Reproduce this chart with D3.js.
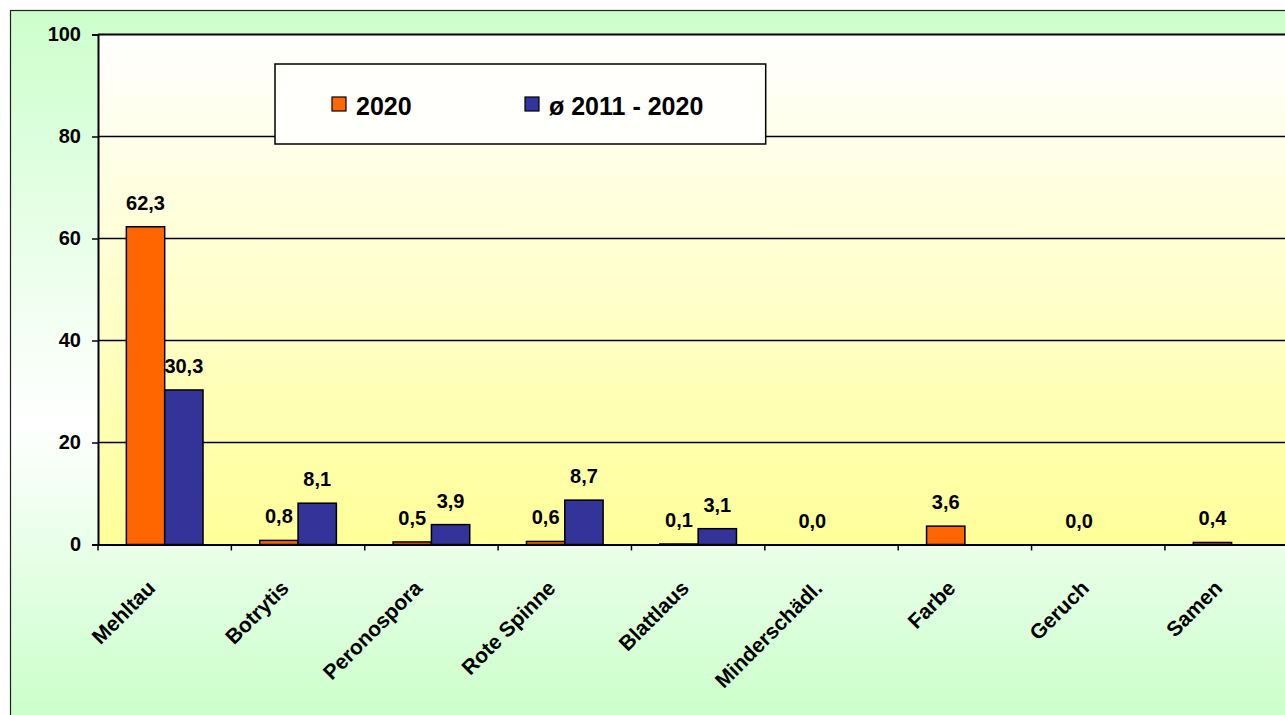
<!DOCTYPE html>
<html>
<head>
<meta charset="utf-8">
<script src="https://cdn.jsdelivr.net/npm/d3@7"></script>
<style>
  body { margin: 0; background: #fff; }
  svg { display: block; font-family: "Liberation Sans", Arial, sans-serif; font-weight: bold; }
</style>
</head>
<body>
<svg id="chart" width="1285" height="715"></svg>
<script>
// data
const categories = ["Mehltau", "Botrytis", "Peronospora", "Rote Spinne", "Blattlaus",
    "Minderschädl.", "Farbe", "Geruch", "Samen"];
const values2020 = [62.3, 0.8, 0.5, 0.6, 0.1, 0.0, 3.6, 0.0, 0.4];
const valuesAvg = [30.3, 8.1, 3.9, 8.7, 3.1, null, null, null, null];
const seriesNames = ["2020", "ø 2011 - 2020"];
const seriesColors = ["#ff6600", "#333399"];
const yTicks = [0, 20, 40, 60, 80, 100];

const svg = d3.select("#chart");
const plot = { left: 98, top: 34.5, right: 1298.3, bottom: 544.5 };
const fmt = v => d3.format(".1f")(v).replace(".", ",");

const defs = svg.append("defs");
const outerGrad = defs.append("linearGradient").attr("id", "outerGrad")
    .attr("x1", 0).attr("y1", 0).attr("x2", 0).attr("y2", 1);
outerGrad.append("stop").attr("offset", "0").attr("stop-color", "#ccffcc");
outerGrad.append("stop").attr("offset", "0.54").attr("stop-color", "#ffffff");
outerGrad.append("stop").attr("offset", "0.92").attr("stop-color", "#ccffcc");

const plotGrad = defs.append("linearGradient").attr("id", "plotGrad")
    .attr("x1", 0).attr("y1", 0).attr("x2", 0).attr("y2", 1);
plotGrad.append("stop").attr("offset", "0").attr("stop-color", "#ffffff");
plotGrad.append("stop").attr("offset", "1").attr("stop-color", "#ffff99");

// outer chart area
svg.append("rect")
    .attr("x", 10.5).attr("y", 10.5)
    .attr("width", 1300).attr("height", 760)
    .attr("fill", "url(#outerGrad)")
    .attr("stroke", "#222").attr("stroke-width", 1.2);

// plot area
svg.append("rect")
    .attr("x", plot.left).attr("y", plot.top)
    .attr("width", plot.right - plot.left).attr("height", plot.bottom - plot.top)
    .attr("fill", "url(#plotGrad)");

const x = d3.scaleBand()
    .domain(categories)
    .range([plot.left, plot.right]);

const xSub = d3.scaleBand()
    .domain([0, 1])
    .range([0, x.bandwidth()])
    .paddingInner(0)
    .paddingOuter(0.74);

const y = d3.scaleLinear()
    .domain([0, 100])
    .range([plot.bottom, plot.top]);

// gridlines
svg.append("g")
    .selectAll("line")
    .data(yTicks.filter(t => t > 0))
    .join("line")
    .attr("x1", plot.left).attr("x2", plot.right)
    .attr("y1", d => y(d)).attr("y2", d => y(d))
    .attr("stroke", "#000")
    .attr("stroke-width", d => d === 100 ? 2 : 1.3);

// bars
const seriesData = [values2020, valuesAvg];
const barData = [];
categories.forEach((c, i) => {
    seriesData.forEach((vals, s) => {
        if (vals[i] !== null) barData.push({ cat: c, s: s, value: vals[i] });
    });
});

svg.append("g")
    .selectAll("rect")
    .data(barData.filter(d => d.value > 0))
    .join("rect")
    .attr("x", d => x(d.cat) + xSub(d.s))
    .attr("y", d => y(d.value))
    .attr("width", xSub.bandwidth())
    .attr("height", d => y(0) - y(d.value))
    .attr("fill", d => seriesColors[d.s])
    .attr("stroke", "#000")
    .attr("stroke-width", 1.5);

// data labels
svg.append("g")
    .selectAll("text")
    .data(barData)
    .join("text")
    .attr("x", d => x(d.cat) + xSub(d.s) + xSub.bandwidth() / 2)
    .attr("y", d => y(d.value) - 17)
    .attr("text-anchor", "middle")
    .attr("font-size", 20)
    .attr("fill", "#000")
    .text(d => fmt(d.value));

// y axis
const yAxis = svg.append("g")
    .attr("transform", `translate(${plot.left},0)`)
    .call(d3.axisLeft(y).tickValues(yTicks).tickSize(6).tickPadding(11).tickFormat(d3.format("d")));
yAxis.select(".domain").attr("stroke", "#000").attr("stroke-width", 2);
yAxis.selectAll(".tick line").attr("stroke", "#000").attr("stroke-width", 1.5);
yAxis.selectAll(".tick text")
    .attr("font-size", 20)
    .attr("font-family", "Liberation Sans, Arial, sans-serif")
    .attr("font-weight", "bold")
    .attr("fill", "#000");

// x axis
const xAxis = svg.append("g")
    .attr("transform", `translate(0,${plot.bottom})`)
    .call(d3.axisBottom(x).tickSize(0).tickSizeOuter(0));
xAxis.select(".domain").attr("stroke", "#000").attr("stroke-width", 2);
xAxis.selectAll(".tick text")
    .attr("y", 0).attr("dy", 0)
    .attr("transform", "translate(-8,45) rotate(-45)")
    .attr("text-anchor", "end")
    .attr("font-size", 21)
    .attr("font-family", "Liberation Sans, Arial, sans-serif")
    .attr("font-weight", "bold")
    .attr("fill", "#000");

// x ticks sit on the category boundaries
const boundaries = categories.map(c => x(c)).concat([x.range()[1]]);
svg.append("g")
    .selectAll("line")
    .data(boundaries)
    .join("line")
    .attr("x1", d => d).attr("x2", d => d)
    .attr("y1", plot.bottom).attr("y2", plot.bottom + 6)
    .attr("stroke", "#000").attr("stroke-width", 1.5);

// legend
const legend = svg.append("g").attr("transform", "translate(275,64)");
legend.append("rect")
    .attr("width", 490.7).attr("height", 80)
    .attr("fill", "#fffffb")
    .attr("stroke", "#000").attr("stroke-width", 1.5);

const legendX = [57, 250];
const item = legend.selectAll("g.item")
    .data(seriesNames)
    .join("g")
    .attr("class", "item")
    .attr("transform", (d, i) => `translate(${legendX[i]},33)`);
item.append("rect")
    .attr("width", 14).attr("height", 14)
    .attr("fill", (d, i) => seriesColors[i])
    .attr("stroke", "#000").attr("stroke-width", 1.2);
item.append("text")
    .attr("x", 24).attr("y", 18)
    .attr("font-size", 25)
    .attr("fill", "#000")
    .text(d => d);
</script>
</body>
</html>
